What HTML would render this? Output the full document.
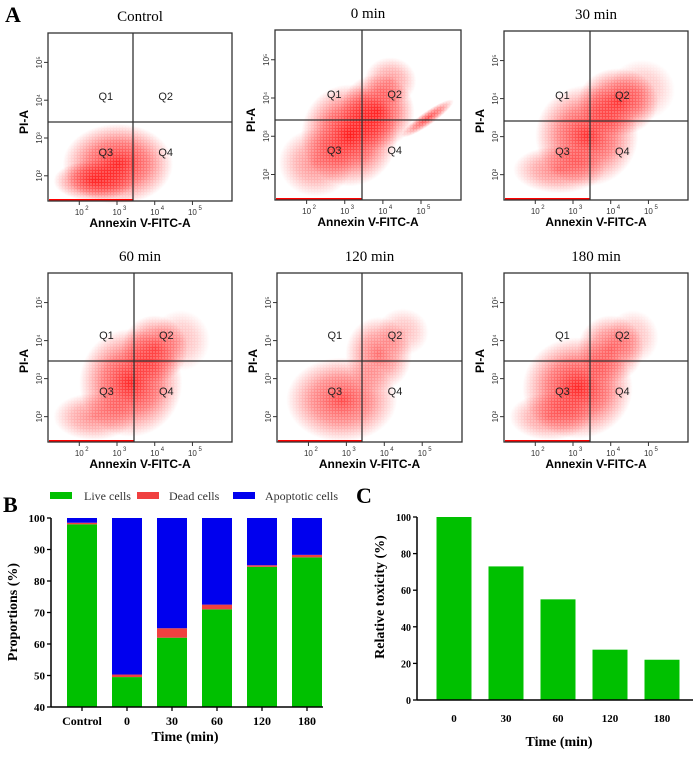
<!DOCTYPE html>
<html><head><meta charset="utf-8"><style>
body{margin:0;background:#fff;width:700px;height:757px;overflow:hidden}
svg{display:block}
.ser{font-family:"Liberation Serif",serif}
.san{font-family:"Liberation Sans",sans-serif}
</style></head><body>
<svg id="fig" width="700" height="757" viewBox="0 0 700 757">
<defs>
<radialGradient id="blob" cx="50%" cy="50%" r="50%">
<stop offset="0" stop-color="#f00" stop-opacity="0.95"/>
<stop offset="0.55" stop-color="#f00" stop-opacity="0.55"/>
<stop offset="1" stop-color="#f00" stop-opacity="0"/>
</radialGradient>
<pattern id="dots" width="3" height="3" patternUnits="userSpaceOnUse">
<circle cx="1" cy="1" r="0.7" fill="#fff" opacity="0.5"/>
</pattern>
</defs>
<text x="5" y="22" class="ser" font-size="22" font-weight="bold">A</text>
<text x="3" y="512" class="ser" font-size="22" font-weight="bold">B</text>
<text x="356" y="503" class="ser" font-size="22" font-weight="bold">C</text>
<g id="flow"></g>
<g id="chartB"></g>
<g id="chartC"></g>
</svg>
<script>
const NS="http://www.w3.org/2000/svg";
function mk(tag,attrs,parent,text){const e=document.createElementNS(NS,tag);for(const k in attrs)e.setAttribute(k,attrs[k]);if(text!==undefined)e.textContent=text;parent.appendChild(e);return e;}

// ---------- Flow cytometry panels ----------
const flowTitles=["Control","0 min","30 min","60 min","120 min","180 min"];
// density blobs: [cx, cy, rx, ry, opacity, angle] in fractional panel coords
const flowBlobs=[
 [[0.38,0.78,0.30,0.24,0.9,0],[0.25,0.88,0.22,0.12,0.8,0]],
 [[0.40,0.62,0.26,0.30,0.95,0],[0.55,0.48,0.20,0.22,0.85,0],[0.62,0.30,0.14,0.14,0.45,0],[0.82,0.52,0.17,0.04,0.75,-35],[0.22,0.78,0.2,0.2,0.5,0]],
 [[0.45,0.62,0.28,0.30,0.85,0],[0.62,0.42,0.22,0.20,0.8,0],[0.30,0.82,0.25,0.14,0.55,0],[0.75,0.35,0.18,0.18,0.3,0]],
 [[0.45,0.65,0.28,0.32,0.9,0],[0.58,0.45,0.18,0.2,0.7,0],[0.25,0.85,0.22,0.14,0.5,0],[0.72,0.4,0.16,0.18,0.3,0]],
 [[0.35,0.75,0.30,0.25,0.75,0],[0.55,0.48,0.18,0.22,0.6,0],[0.68,0.35,0.14,0.14,0.3,0]],
 [[0.40,0.68,0.30,0.30,0.9,0],[0.58,0.45,0.18,0.2,0.65,0],[0.25,0.85,0.22,0.14,0.5,0],[0.7,0.38,0.14,0.16,0.3,0]]
];
const flowBoxes=[[48,33,232,201,133,122],[275,30,461,200,362,120],[504,31,688,200,590,121],[48,273,232,442,134,361],[277,273,462,442,362,361],[504,273,688,442,590,361]];
const flow=document.getElementById('flow');
flowBoxes.forEach((b,i)=>{
 const [x0,y0,x1,y1,vx,hy]=b;const w=x1-x0,h=y1-y0;
 const g=mk('g',{},flow);
 
 
 const t=mk('text',{x:(x0+x1)/2,y:y0-12,'text-anchor':'middle','font-size':15,class:'ser'},g,flowTitles[i]);
 
 
 const cg=mk('g',{},g);
 flowBlobs[i].forEach(bl=>{
  const cx=x0+bl[0]*w,cy=y0+bl[1]*h;
  const e=mk('ellipse',{cx:cx,cy:cy,rx:bl[2]*w,ry:bl[3]*h,fill:'url(#blob)',opacity:bl[4],transform:`rotate(${bl[5]} ${cx} ${cy})`},cg);
  
  
 });
 mk('rect',{x:x0,y:y0,width:w,height:h,fill:'url(#dots)'},g);
 mk('line',{x1:x0+1,y1:y1-1,x2:vx,y2:y1-1,stroke:'#f00','stroke-width':2},g);
 const box=mk('rect',{x:x0,y:y0,width:w,height:h,fill:'none',stroke:'#333','stroke-width':1.3},g);
 
 
 mk('line',{x1:vx,y1:y0,x2:vx,y2:y1,stroke:'#333','stroke-width':1.3},g);
 mk('line',{x1:x0,y1:hy,x2:x1,y2:hy,stroke:'#333','stroke-width':1.3},g);
 [['Q1',x0+(vx-x0)*0.68,hy-22],['Q2',vx+(x1-vx)*0.33,hy-22],['Q3',x0+(vx-x0)*0.68,hy+34],['Q4',vx+(x1-vx)*0.33,hy+34]].forEach(q=>{
  const e=mk('text',{x:q[1],y:q[2],'text-anchor':'middle','font-size':11,class:'san',fill:'#222'},g,q[0]);
  
  
 });
 for(let k=0;k<4;k++){const tx=x0+w*(0.17+k*0.205);
  mk('text',{x:tx,y:y1+14,'text-anchor':'middle','font-size':8,class:'san',fill:'#333'},g,'10');
  mk('text',{x:tx+6,y:y1+9,'font-size':6,class:'san',fill:'#333'},g,String(k+2));
  mk('line',{x1:tx,y1:y1,x2:tx,y2:y1+4,stroke:'#333'},g);
 }
 for(let k=0;k<4;k++){const ty=y1-h*(0.15+k*0.225);
  mk('text',{x:x0-6,y:ty,'font-size':8,class:'san',fill:'#333',transform:`rotate(-90 ${x0-6} ${ty})`,'text-anchor':'middle'},g,'10'+['²','³','⁴','⁵'][k]);
  mk('line',{x1:x0-4,y1:ty,x2:x0,y2:ty,stroke:'#333'},g);
 }
 const xl=mk('text',{x:(x0+x1)/2,y:y1+26,'text-anchor':'middle','font-size':12,'font-weight':'bold',class:'san'},g,'Annexin V-FITC-A');
 
 
 const yl=mk('text',{x:x0-20,y:hy,'text-anchor':'middle','font-size':12,'font-weight':'bold',class:'san',transform:`rotate(-90 ${x0-20} ${hy})`},g,'PI-A');
 
 
});

// ---------- Chart B ----------
const bCats=["Control","0","30","60","120","180"];
const bLive=[98,49.5,62,71,84.5,87.5];
const bDead=[0.5,0.8,3,1.5,0.5,0.8];
const bTicks=[40,50,60,70,80,90,100];
const B=document.getElementById('chartB');
const bx0=51,bx1=323,byTop=518,byBot=707;
const bY=v=>byBot-(v-40)/60*(byBot-byTop);
const bX=i=>82+i*45;
bCats.forEach((c,i)=>{
 const cx=bX(i),bw=30;
 const segs=[[40,bLive[i],'#00c000','bar-live-'+c],[bLive[i],bLive[i]+bDead[i],'#f04040','bar-dead-'+c],[bLive[i]+bDead[i],100,'#0000ee','bar-apoptotic-'+c]];
 segs.forEach(s=>{
  const r=mk('rect',{x:cx-bw/2,y:bY(s[1]),width:bw,height:bY(s[0])-bY(s[1]),fill:s[2]},B);
  
  
 });
 mk('line',{x1:cx,y1:byBot,x2:cx,y2:byBot+4,stroke:'#000','stroke-width':1.3},B);
 const t=mk('text',{x:cx,y:byBot+18,'text-anchor':'middle','font-size':12,'font-weight':'bold',class:'ser'},B,c);
 
 
});
mk('line',{x1:bx0,y1:byTop,x2:bx0,y2:byBot,stroke:'#000','stroke-width':1.5},B);
mk('line',{x1:bx0,y1:byBot,x2:bx1,y2:byBot,stroke:'#000','stroke-width':1.5},B);
bTicks.forEach(v=>{
 mk('line',{x1:bx0-4,y1:bY(v),x2:bx0,y2:bY(v),stroke:'#000','stroke-width':1.3},B);
 const t=mk('text',{x:bx0-6,y:bY(v)+4,'text-anchor':'end','font-size':11,'font-weight':'bold',class:'ser'},B,String(v));
 
 
});
let t=mk('text',{x:185,y:741,'text-anchor':'middle','font-size':14,'font-weight':'bold',class:'ser'},B,'Time (min)');


t=mk('text',{x:17,y:612,'text-anchor':'middle','font-size':14,'font-weight':'bold',class:'ser',transform:'rotate(-90 17 612)'},B,'Proportions  (%)');


[['Live cells','#00c000',50,84],['Dead cells','#f04040',137,169],['Apoptotic cells','#0000ee',233,265]].forEach(l=>{
 const g=mk('g',{},B);
 
 
 mk('rect',{x:l[2],y:492,width:22,height:7,fill:l[1]},g);
 mk('text',{x:l[3],y:500,'font-size':12,class:'ser',fill:'#333'},g,l[0]);
});

// ---------- Chart C ----------
const cCats=["0","30","60","120","180"];
const cVals=[100,73,55,27.5,22];
const cTicks=[0,20,40,60,80,100];
const C=document.getElementById('chartC');
const cx0=417,cx1=693,cyTop=517,cyBot=700;
const cY=v=>cyBot-v/100*(cyBot-cyTop);
const cX=i=>454+i*52;
cCats.forEach((c,i)=>{
 const r=mk('rect',{x:cX(i)-17.5,y:cY(cVals[i]),width:35,height:cyBot-cY(cVals[i]),fill:'#00c000'},C);
 
 
 const tx=mk('text',{x:cX(i),y:cyBot+22,'text-anchor':'middle','font-size':11,'font-weight':'bold',class:'ser'},C,c);
 
 
});
mk('line',{x1:cx0,y1:cyTop,x2:cx0,y2:cyBot,stroke:'#000','stroke-width':1.5},C);
mk('line',{x1:cx0,y1:cyBot,x2:cx1,y2:cyBot,stroke:'#000','stroke-width':1.5},C);
cTicks.forEach(v=>{
 mk('line',{x1:cx0-4,y1:cY(v),x2:cx0,y2:cY(v),stroke:'#000','stroke-width':1.3},C);
 const tx=mk('text',{x:cx0-6,y:cY(v)+4,'text-anchor':'end','font-size':10,'font-weight':'bold',class:'ser'},C,String(v));
 
 
});
t=mk('text',{x:559,y:746,'text-anchor':'middle','font-size':14,'font-weight':'bold',class:'ser'},C,'Time (min)');


t=mk('text',{x:384,y:597,'text-anchor':'middle','font-size':14,'font-weight':'bold',class:'ser',transform:'rotate(-90 384 597)'},C,'Relative toxicity  (%)');


</script>
</body></html>
